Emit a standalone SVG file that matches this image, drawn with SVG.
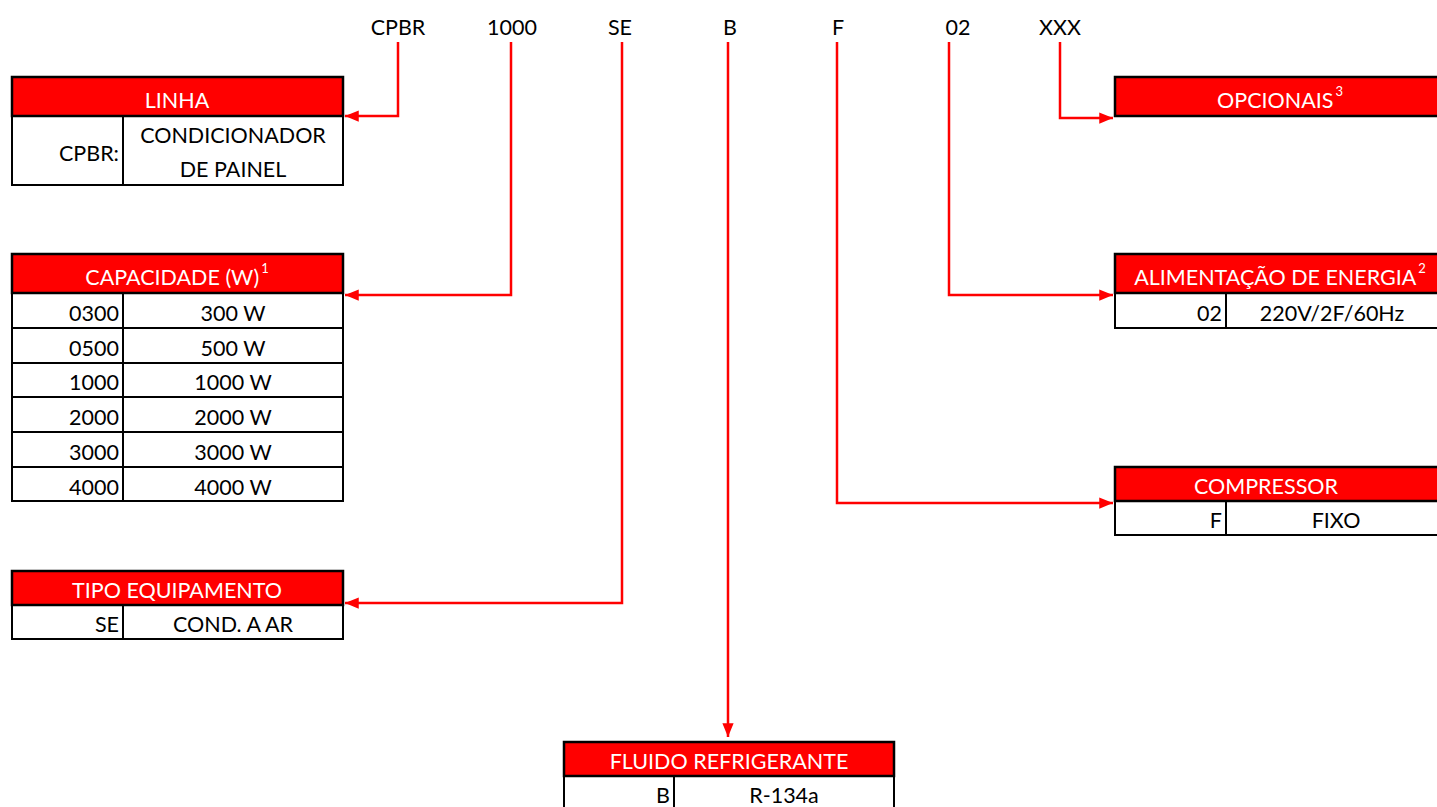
<svg xmlns="http://www.w3.org/2000/svg" width="1437" height="807" viewBox="0 0 1437 807">
<defs>
<marker id="ah" viewBox="0 0 10 10" refX="10" refY="5" markerWidth="5.5" markerHeight="4.5" markerUnits="strokeWidth" orient="auto" preserveAspectRatio="none"><path d="M0,0 L10,5 L0,10 Z" fill="#FF0000"/></marker>
<style>
text{font-family:Lato,"Liberation Sans",sans-serif;font-size:21.5px;fill:#000}
.hd{fill:#FF0000;stroke:#000;stroke-width:2.5}
.bd{fill:#fff;stroke:#000;stroke-width:2}
.ln{stroke:#000;stroke-width:2}
.ht{fill:#fff;text-anchor:middle}
.sup{font-size:13px;fill:#fff}
.r{text-anchor:end}
.c{text-anchor:middle}
.cn{fill:none;stroke:#FF0000;stroke-width:2.5;marker-end:url(#ah)}
</style>
</defs>
<rect width="1437" height="807" fill="#fff"/>
<g id="codes">
<text x="398" y="35" class="c">CPBR</text>
<text x="512" y="35" class="c">1000</text>
<text x="620" y="35" class="c">SE</text>
<text x="730" y="35" class="c">B</text>
<text x="838" y="35" class="c">F</text>
<text x="958" y="35" class="c">02</text>
<text x="1060" y="35" class="c">XXX</text>
</g>
<g id="connectors">
<path class="cn" d="M398,42 V116 H345"/>
<path class="cn" d="M511,42 V295 H345"/>
<path class="cn" d="M622,42 V603 H345"/>
<path class="cn" d="M728,42 V737"/>
<path class="cn" d="M837,42 V503 H1113"/>
<path class="cn" d="M949,42 V295 H1113"/>
<path class="cn" d="M1060,42 V118 H1113"/>
</g>
<g id="linha">
<rect class="bd" x="12" y="116" width="331" height="69"/>
<rect class="hd" x="12" y="77" width="331" height="39"/>
<line class="ln" x1="123" y1="116" x2="123" y2="186"/>
<text x="177" y="108" class="ht">LINHA</text>
<text x="119" y="161" class="r">CPBR:</text>
<text x="233" y="143" class="c">CONDICIONADOR</text>
<text x="233" y="177" class="c">DE PAINEL</text>
</g>
<g id="capacidade">
<rect class="bd" x="12" y="293" width="331" height="208"/>
<rect class="hd" x="12" y="254" width="331" height="39"/>
<line class="ln" x1="123" y1="293" x2="123" y2="501"/>
<line class="ln" x1="12" y1="328" x2="343" y2="328"/>
<line class="ln" x1="12" y1="363" x2="343" y2="363"/>
<line class="ln" x1="12" y1="397" x2="343" y2="397"/>
<line class="ln" x1="12" y1="432" x2="343" y2="432"/>
<line class="ln" x1="12" y1="467" x2="343" y2="467"/>
<text x="177" y="285" class="ht">CAPACIDADE (W)<tspan class="sup" dx="2" dy="-12">1</tspan></text>
<text x="119" y="321" class="r">0300</text><text x="233" y="321" class="c">300 W</text>
<text x="119" y="356" class="r">0500</text><text x="233" y="356" class="c">500 W</text>
<text x="119" y="390" class="r">1000</text><text x="233" y="390" class="c">1000 W</text>
<text x="119" y="425" class="r">2000</text><text x="233" y="425" class="c">2000 W</text>
<text x="119" y="460" class="r">3000</text><text x="233" y="460" class="c">3000 W</text>
<text x="119" y="495" class="r">4000</text><text x="233" y="495" class="c">4000 W</text>
</g>
<g id="tipo">
<rect class="bd" x="12" y="605" width="331" height="34"/>
<rect class="hd" x="12" y="571" width="331" height="34"/>
<line class="ln" x1="123" y1="605" x2="123" y2="639"/>
<text x="177" y="598" class="ht">TIPO EQUIPAMENTO</text>
<text x="119" y="632" class="r">SE</text>
<text x="233" y="632" class="c">COND. A AR</text>
</g>
<g id="opcionais">
<rect class="hd" x="1115" y="77" width="330" height="39"/>
<text x="1280" y="108" class="ht">OPCIONAIS<tspan class="sup" dx="2" dy="-12">3</tspan></text>
</g>
<g id="alimentacao">
<rect class="bd" x="1115" y="293" width="330" height="35"/>
<rect class="hd" x="1115" y="254" width="330" height="39"/>
<line class="ln" x1="1226" y1="293" x2="1226" y2="328"/>
<text x="1280" y="285" class="ht">ALIMENTAÇÃO DE ENERGIA<tspan class="sup" dx="2" dy="-12">2</tspan></text>
<text x="1222" y="321" class="r">02</text>
<text x="1332" y="321" class="c">220V/2F/60Hz</text>
</g>
<g id="compressor">
<rect class="bd" x="1115" y="501" width="330" height="34"/>
<rect class="hd" x="1115" y="467" width="330" height="34"/>
<line class="ln" x1="1226" y1="501" x2="1226" y2="535"/>
<text x="1266" y="494" class="ht">COMPRESSOR</text>
<text x="1222" y="528" class="r">F</text>
<text x="1336" y="528" class="c">FIXO</text>
</g>
<g id="fluido">
<rect class="bd" x="564" y="776" width="330" height="40"/>
<rect class="hd" x="564" y="742" width="330" height="34"/>
<line class="ln" x1="674" y1="776" x2="674" y2="810"/>
<text x="729" y="769" class="ht">FLUIDO REFRIGERANTE</text>
<text x="670" y="803" class="r">B</text>
<text x="784" y="803" class="c">R-134a</text>
</g>
</svg>
